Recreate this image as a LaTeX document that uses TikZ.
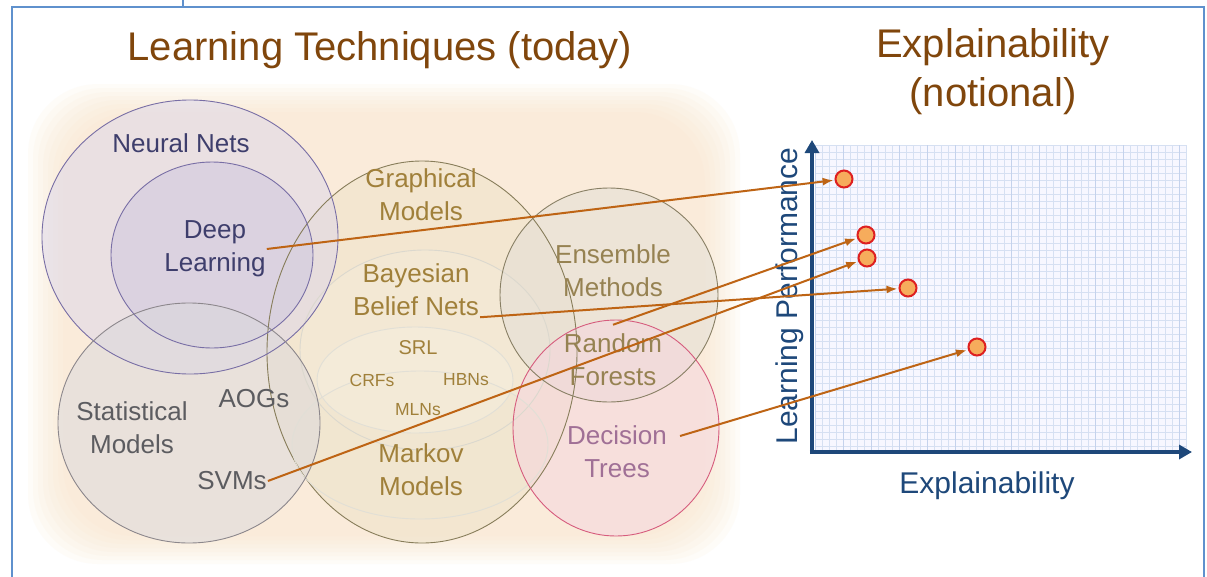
\documentclass[tikz,border=0pt]{standalone}
\usepackage{fontspec}
\setmainfont{Liberation Sans}
\usepackage{tikz}
\usetikzlibrary{arrows.meta,positioning}
\usepackage{xcolor}
\definecolor{xtitle}{RGB}{128,70,12}
\definecolor{xframe}{RGB}{95,145,205}
\definecolor{xpeach}{RGB}{250,226,196}
\definecolor{xnavy}{RGB}{30,72,122}
\definecolor{xgrid}{RGB}{214,224,242}
\definecolor{xgriddark}{RGB}{196,210,236}
\definecolor{xarrow}{RGB}{190,100,20}
\definecolor{xdotfill}{RGB}{246,172,92}
\definecolor{xdotred}{RGB}{222,32,32}
\definecolor{nnfill}{RGB}{220,214,234}
\definecolor{nnline}{RGB}{120,110,165}
\definecolor{nntext}{RGB}{62,62,108}
\definecolor{stfill}{RGB}{218,216,220}
\definecolor{stline}{RGB}{140,135,140}
\definecolor{sttext}{RGB}{92,92,96}
\definecolor{gmfill}{RGB}{238,226,200}
\definecolor{gmline}{RGB}{135,125,90}
\definecolor{gmtext}{RGB}{160,128,58}
\definecolor{enfill}{RGB}{226,222,214}
\definecolor{entext}{RGB}{150,130,82}
\definecolor{dtfill}{RGB}{246,212,222}
\definecolor{dtline}{RGB}{214,92,125}
\definecolor{dttext}{RGB}{160,112,150}
\tikzstyle{lbl} = [font=\fontsize{26}{33}\selectfont, align=center, inner sep=1pt]
\tikzstyle{tiny} = [font=\fontsize{17.5}{20}\selectfont, text=gmtext, inner sep=1pt]
\tikzstyle{headline} = [font=\fontsize{40}{49}\selectfont, text=xtitle, align=center]
\tikzstyle{axislbl} = [font=\fontsize{30}{34}\selectfont, text=xnavy]
\tikzstyle{arrow} = [line width=2pt, -{Latex[length=11pt,width=8pt]}, color=xarrow, shorten >=1pt]
\tikzstyle{axis} = [line width=4.5pt, color=xnavy, -{Triangle[length=13pt,width=14pt]}]
\tikzstyle{dot} = [circle, minimum size=17pt, inner sep=0pt, draw=xdotred, fill=xdotfill, line width=2pt]
\tikzstyle{setfill} = [fill opacity=0.5]
\tikzstyle{setline} = [line width=0.9pt]

\begin{document}
\begin{tikzpicture}[x=1pt, y=-1pt]
\useasboundingbox (0,0) rectangle (1207,576);
\fill[white] (0,0) rectangle (1207,576);

% frame
\draw[xframe, line width=1.6pt] (12,7) rectangle (1204,600);
\draw[xframe, line width=1.6pt] (183,0) -- (183,7);

% soft backdrop
\foreach \i in {0,...,7}
  \fill[xpeach, opacity=0.1, rounded corners=70] ({28+\i*5},{84+\i*4}) rectangle ({740-\i*5},{564-\i*4});

% titles
\node[headline] (ttl) at (380,50) {Learning Techniques (today)};
\node[headline] (xttl) at (993,72) {Explainability\\(notional)};

% sets
\fill[gmfill, setfill] (422,352) ellipse [x radius=155, y radius=191];
\fill[gmfill!70!white, setfill] (425,350) ellipse [x radius=125, y radius=100];
\fill[gmfill!85!white, setfill] (420,445) ellipse [x radius=128, y radius=74];
\fill[gmfill!60!white, setfill] (415,380) ellipse [x radius=98, y radius=53];
\fill[nnfill, setfill] (190,237) ellipse [x radius=148, y radius=137];
\fill[nnfill!85!nnline, setfill] (212,255) ellipse [x radius=101, y radius=93];
\fill[stfill, setfill] (189,423) ellipse [x radius=131, y radius=120];
\fill[enfill, setfill] (609,295) ellipse [x radius=109, y radius=107];
\fill[dtfill, setfill] (616,428) ellipse [x radius=103, y radius=108];

\draw[gmline, setline] (422,352) ellipse [x radius=155, y radius=191];
\draw[gmline!30!white, setline] (425,350) ellipse [x radius=125, y radius=100];
\draw[gmline!25!white, setline] (420,445) ellipse [x radius=128, y radius=74];
\draw[gmline!25!white, setline] (415,380) ellipse [x radius=98, y radius=53];
\draw[nnline, setline] (190,237) ellipse [x radius=148, y radius=137];
\draw[nnline, setline] (212,255) ellipse [x radius=101, y radius=93];
\draw[stline, setline] (189,423) ellipse [x radius=131, y radius=120];
\draw[gmline!80!stline, setline] (609,295) ellipse [x radius=109, y radius=107];
\draw[dtline, setline] (616,428) ellipse [x radius=103, y radius=108];

% labels
\node[lbl, text=nntext] (nn) at (181,143) {Neural Nets};
\node[lbl, text=nntext] (dl) at (215,249) {Deep\\Learning};
\node[lbl, text=sttext] (sm) at (132,428) {Statistical\\Models};
\node[lbl, text=sttext] (aog) at (254,399) {AOGs};
\node[lbl, text=sttext] (svm) at (232,481) {SVMs};
\node[lbl, text=gmtext] (gm) at (421,195) {Graphical\\Models};
\node[lbl, text=gmtext] (bbn) at (416,290) {Bayesian\\Belief Nets};
\node[tiny, font=\fontsize{20}{22}\selectfont] (srl) at (418,348) {SRL};
\node[tiny] (crf) at (372,380) {CRFs};
\node[tiny] (hbn) at (466,380) {HBNs};
\node[tiny] (mln) at (418,410) {MLNs};
\node[lbl, text=gmtext] (mm) at (421,470) {Markov\\Models};
\node[lbl, text=entext] (em) at (613,271) {Ensemble\\Methods};
\node[lbl, text=entext] (rf) at (613,360) {Random\\Forests};
\node[lbl, text=dttext] (dt) at (617,452) {Decision\\Trees};

% chart
\fill[blue!3] (815,145) rectangle (1187,450);
\foreach \gx in {0,...,53}
  \draw[xgrid, line width=0.6pt] ({815+\gx*7},145) -- ({815+\gx*7},450);
\foreach \gy in {0,...,43}
  \draw[xgrid, line width=0.6pt] (815,{145+\gy*7}) -- (1187,{145+\gy*7});
\foreach \gx in {0,4,...,52}
  \draw[xgriddark, line width=0.6pt] ({815+\gx*7},145) -- ({815+\gx*7},450);
\coordinate (org) at (812,452);
\coordinate (ytop) at (812,140);
\coordinate (xend) at (1192,452);
\draw[axis] ([yshift=-2.2pt]org) -- (ytop);
\draw[axis] ([xshift=-2.2pt]org) -- (xend);
\node[axislbl, rotate=90] (lp) at (790,296) {Learning Performance};
\node[axislbl] (ex) at (987,486) {Explainability};

% points
\node[dot] (p1) at (844,179) {};
\node[dot] (p2) at (866,235) {};
\node[dot] (p3) at (867,258) {};
\node[dot] (p4) at (908,288) {};
\node[dot] (p5) at (977,347) {};

\draw[arrow] (dl.east) -- (p1);
\draw[arrow] ([yshift=8pt]rf.north) -- (p2);
\draw[arrow] (svm.east) -- (p3);
\draw[arrow] (bbn.south east) -- (p4);
\draw[arrow] ([xshift=12pt,yshift=16pt]dt.east) -- (p5);
\end{tikzpicture}
\end{document}
